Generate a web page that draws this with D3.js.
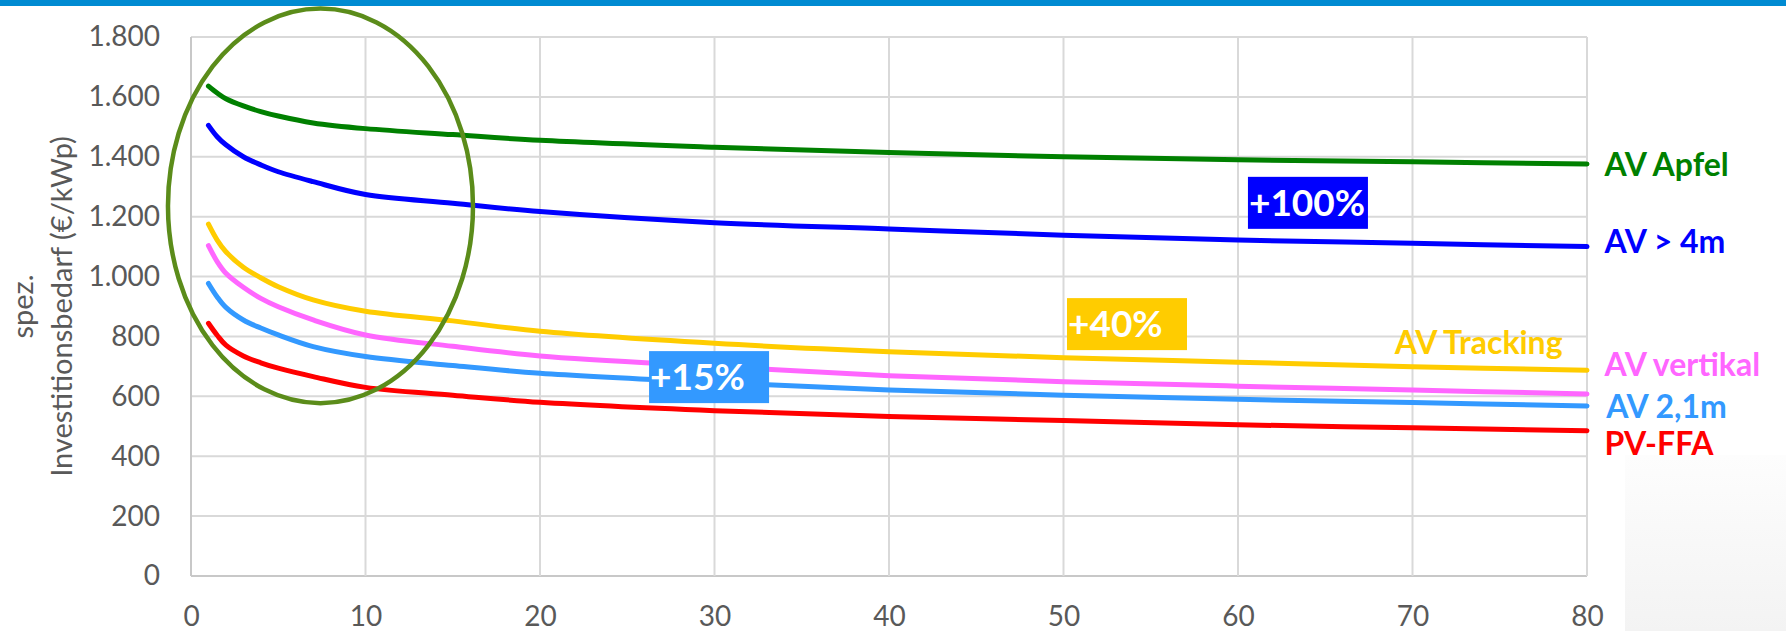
<!DOCTYPE html>
<html>
<head>
<meta charset="utf-8">
<script src="https://cdn.jsdelivr.net/npm/d3@7"></script>
<style>
  body { margin: 0; background: #fff; }
  svg { display: block; font-family: Lato, "Open Sans", sans-serif; }
</style>
</head>
<body>
<div id="chart"></div>
<script>
// Chart data
var xValues = [1, 1.5, 2, 3, 4, 5, 7, 10, 15, 20, 30, 40, 50, 60, 70, 80];
var avApfel    = [1636, 1613, 1594, 1570, 1551, 1536, 1513, 1494, 1474, 1455, 1432, 1414, 1400, 1390, 1383, 1376];
var av4m       = [1505, 1467, 1440, 1400, 1373, 1350, 1317, 1274, 1245, 1217, 1180, 1159, 1138, 1122, 1111, 1100];
var avTracking = [1175, 1122, 1083, 1031, 996, 966, 922, 884, 852, 817, 777, 749, 729, 714, 699, 687];
var avVertikal = [1103, 1050, 1011, 964, 927, 899, 855, 805, 767, 735, 700, 669, 649, 634, 621, 608];
var av21m      = [977, 932, 897, 855, 828, 805, 766, 733, 703, 677, 646, 621, 604, 590, 579, 568];
var pvFfa      = [844, 804, 771, 735, 712, 694, 666, 630, 604, 580, 552, 533, 519, 505, 495, 485];

var seriesNames  = ["AV Apfel", "AV > 4m", "AV Tracking", "AV vertikal", "AV 2,1m", "PV-FFA"];
var seriesValues = [avApfel, av4m, avTracking, avVertikal, av21m, pvFfa];
var seriesColors = ["#008000", "#0000FF", "#FFCC00", "#FF66FF", "#3399FF", "#FF0000"];

var xTicks = [0, 10, 20, 30, 40, 50, 60, 70, 80];
var yTicks = [0, 200, 400, 600, 800, 1000, 1200, 1400, 1600, 1800];

var boxTexts  = ["+100%", "+40%", "+15%"];
var boxColors = ["#0000FF", "#FFCC00", "#3399FF"];

// Set the svg width and height
var svgWidth = 1786;
var svgHeight = 631;

var margin = { top: 37, right: 199, bottom: 55, left: 191 };
var width = svgWidth - margin.left - margin.right;
var height = svgHeight - margin.top - margin.bottom;

var svg = d3.select("#chart")
  .append("svg")
  .attr("width", svgWidth)
  .attr("height", svgHeight);

// faint grey panel in the lower right corner
var defs = svg.append("defs");
var grad = defs.append("linearGradient")
  .attr("id", "panelGrad")
  .attr("x1", 0).attr("y1", 0).attr("x2", 0).attr("y2", 1);
grad.append("stop").attr("offset", "0%").attr("stop-color", "#fdfdfd");
grad.append("stop").attr("offset", "100%").attr("stop-color", "#f3f3f3");
svg.append("rect")
  .attr("x", 1625).attr("y", 455)
  .attr("width", svgWidth - 1625).attr("height", svgHeight - 455)
  .attr("fill", "url(#panelGrad)");

// blue bar on top
svg.append("rect")
  .attr("x", 0).attr("y", 0)
  .attr("width", svgWidth).attr("height", 6)
  .attr("fill", "#008BD2");

var chartGroup = svg.append("g")
  .attr("transform", `translate(${margin.left}, ${margin.top})`);

// scales
var xScale = d3.scaleLinear().domain([0, 80]).range([0, width]);
var yScale = d3.scaleLinear().domain([0, 1800]).range([height, 0]);

// gridlines
chartGroup.append("g")
  .selectAll("line")
  .data(yTicks)
  .enter()
  .append("line")
  .attr("x1", 0).attr("x2", width)
  .attr("y1", d => yScale(d)).attr("y2", d => yScale(d))
  .attr("stroke", d => d === 0 ? "#c8c8c8" : "#d9d9d9")
  .attr("stroke-width", 2);

chartGroup.append("g")
  .selectAll("line")
  .data(xTicks)
  .enter()
  .append("line")
  .attr("x1", d => xScale(d)).attr("x2", d => xScale(d))
  .attr("y1", 0).attr("y2", height)
  .attr("stroke", d => d === 0 ? "#c8c8c8" : "#d9d9d9")
  .attr("stroke-width", 2);

// axes (labels only, Excel style)
var leftAxis = d3.axisLeft(yScale)
  .tickValues(yTicks)
  .tickSize(0)
  .tickPadding(31)
  .tickFormat(d => d3.format(",")(d).replace(/,/g, "."));

var bottomAxis = d3.axisBottom(xScale)
  .tickValues(xTicks)
  .tickSize(0)
  .tickPadding(30);

chartGroup.append("g")
  .attr("class", "y-axis")
  .call(leftAxis);

chartGroup.append("g")
  .attr("class", "x-axis")
  .attr("transform", `translate(0, ${height})`)
  .call(bottomAxis);

chartGroup.selectAll(".y-axis path, .x-axis path").remove();
chartGroup.selectAll(".y-axis text, .x-axis text")
  .attr("fill", "#595959")
  .attr("font-size", "28px")
  .attr("font-family", "Lato, 'Open Sans', sans-serif");

// y axis title (two lines)
var titleY = margin.top + height / 2;
svg.append("text")
  .attr("transform", `translate(33, ${titleY}) rotate(-90)`)
  .attr("text-anchor", "middle")
  .attr("fill", "#595959")
  .attr("font-size", "29px")
  .text("spez.");
svg.append("text")
  .attr("transform", `translate(72, ${titleY}) rotate(-90)`)
  .attr("text-anchor", "middle")
  .attr("fill", "#595959")
  .attr("font-size", "29px")
  .text("Investitionsbedarf (€/kWp)");

// series lines
var line = d3.line()
  .x((d, i) => xScale(xValues[i]))
  .y(d => yScale(d))
  .curve(d3.curveCatmullRom.alpha(0.5));

chartGroup.append("g")
  .selectAll("path")
  .data(seriesValues)
  .enter()
  .append("path")
  .attr("d", d => line(d))
  .attr("fill", "none")
  .attr("stroke", (d, i) => seriesColors[i])
  .attr("stroke-width", 5)
  .attr("stroke-linecap", "round");

// series labels on the right (y in data units, label centre)
var labelPos = [
  { x: 81.0, y: 1375, anchor: "start" },
  { x: 81.0, y: 1118, anchor: "start" },
  { x: 78.6, y: 781,  anchor: "end" },
  { x: 81.0, y: 708,  anchor: "start" },
  { x: 81.1, y: 566,  anchor: "start" },
  { x: 81.0, y: 444,  anchor: "start" }
];

chartGroup.append("g")
  .selectAll("text")
  .data(seriesNames)
  .enter()
  .append("text")
  .attr("x", (d, i) => xScale(labelPos[i].x))
  .attr("y", (d, i) => yScale(labelPos[i].y))
  .attr("dy", "0.36em")
  .attr("text-anchor", (d, i) => labelPos[i].anchor)
  .attr("fill", (d, i) => seriesColors[i])
  .attr("font-size", "32px")
  .attr("font-weight", "bold")
  .text(d => d);

// percentage boxes (top-left corner in data units)
var boxPos = [
  { x: 60.57, y: 1333 },
  { x: 50.2,  y: 928 },
  { x: 26.25, y: 751 }
];
var boxW = 120, boxH = 52;

var boxes = chartGroup.append("g")
  .selectAll("g")
  .data(boxTexts)
  .enter()
  .append("g")
  .attr("transform", (d, i) => `translate(${xScale(boxPos[i].x)}, ${yScale(boxPos[i].y)})`);

boxes.append("rect")
  .attr("width", boxW)
  .attr("height", boxH)
  .attr("fill", (d, i) => boxColors[i]);

boxes.append("text")
  .attr("x", 1)
  .attr("y", boxH / 2)
  .attr("dy", "0.36em")
  .attr("fill", "#fff")
  .attr("font-size", "37px")
  .attr("font-weight", "bold")
  .text(d => d);

// green ellipse round the first years (centre and radii in data units)
var ell = { cx: 7.42, cy: 1236, rx: 8.74, ry: 659 };
chartGroup.append("ellipse")
  .attr("cx", xScale(ell.cx))
  .attr("cy", yScale(ell.cy))
  .attr("rx", xScale(ell.rx) - xScale(0))
  .attr("ry", yScale(0) - yScale(ell.ry))
  .attr("fill", "none")
  .attr("stroke", "#5B8C1A")
  .attr("stroke-width", 4.5);
</script>
</body>
</html>
